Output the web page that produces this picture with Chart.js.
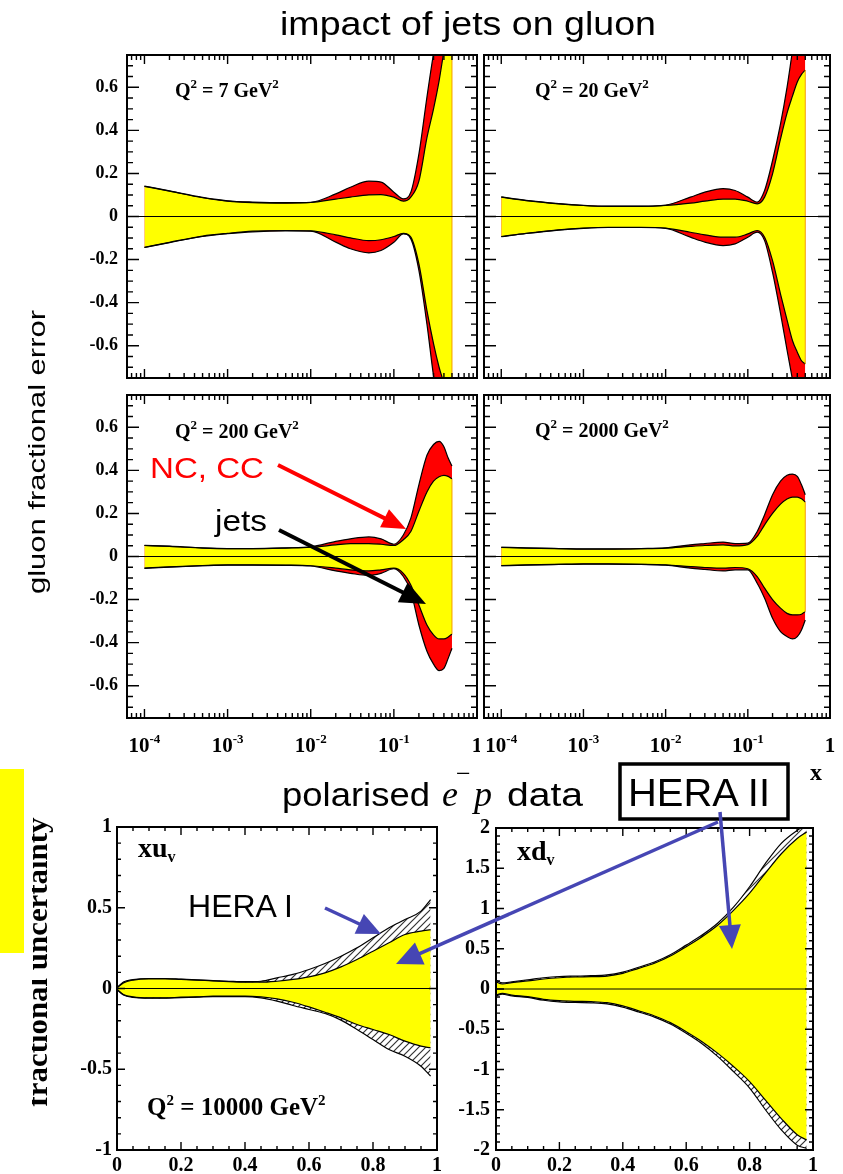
<!DOCTYPE html>
<html>
<head>
<meta charset="utf-8">
<title>impact of jets on gluon</title>
<script src="https://cdn.jsdelivr.net/npm/chart.js@4.4.1/dist/chart.umd.min.js"></script>
<style>
  body { margin: 0; background: #fff; }
  #page { position: relative; width: 843px; height: 1174px; overflow: hidden; background: #fff; }
  #page canvas, #page svg { position: absolute; }
</style>
</head>
<body>
<div id="page">
  <canvas id="q7" width="420" height="332" style="left:60px;top:50px"></canvas>
  <canvas id="q20" width="353" height="332" style="left:481px;top:50px"></canvas>
  <canvas id="q200" width="420" height="372" style="left:60px;top:390px"></canvas>
  <canvas id="q2000" width="357" height="372" style="left:481px;top:390px"></canvas>
  <canvas id="xuv" width="371" height="359" style="left:70px;top:815px"></canvas>
  <canvas id="xdv" width="385" height="359" style="left:445px;top:815px"></canvas>

  <svg id="ann" width="843" height="1174" style="left:0;top:0" font-family="'Liberation Sans', Arial, sans-serif">
    <defs>
      <clipPath id="fuClip"><rect x="32" y="790" width="40" height="340"/></clipPath>
    </defs>
    <rect x="0" y="769" width="24" height="184" fill="#ffff00"/>

    <text x="280" y="35" font-size="33" textLength="376" lengthAdjust="spacingAndGlyphs">impact of jets on gluon</text>
    <text x="45" y="452" font-size="24" text-anchor="middle" textLength="284" lengthAdjust="spacingAndGlyphs" transform="rotate(-90 45 452)">gluon fractional error</text>

    <text x="150" y="478" font-size="30" fill="#ff0000" textLength="114" lengthAdjust="spacingAndGlyphs">NC, CC</text>
    <text x="215" y="531" font-size="30" textLength="52" lengthAdjust="spacingAndGlyphs">jets</text>

    <text x="282" y="806" font-size="34" textLength="148" lengthAdjust="spacingAndGlyphs">polarised</text>
    <g font-family="'Liberation Serif', 'Times New Roman', serif">
      <text x="442" y="806" font-size="36" font-style="italic">e</text>
      <text x="456" y="782" font-size="26">&#8722;</text>
      <text x="474" y="806" font-size="36" font-style="italic">p</text>
    </g>
    <text x="507" y="806" font-size="34" textLength="76" lengthAdjust="spacingAndGlyphs">data</text>
    <rect x="620" y="764" width="168" height="55" fill="none" stroke="#000" stroke-width="3.5"/>
    <text x="628" y="806" font-size="38" textLength="142" lengthAdjust="spacingAndGlyphs">HERA II</text>
    <text x="188" y="917" font-size="32" textLength="105" lengthAdjust="spacingAndGlyphs">HERA I</text>

    <g font-family="'Liberation Serif', 'Times New Roman', serif" font-weight="bold">
      <text x="175" y="97" font-size="20">Q<tspan dy="-9" font-size="13">2</tspan><tspan dy="9"> = 7 GeV</tspan><tspan dy="-9" font-size="13">2</tspan></text>
      <text x="535" y="97" font-size="20">Q<tspan dy="-9" font-size="13">2</tspan><tspan dy="9"> = 20 GeV</tspan><tspan dy="-9" font-size="13">2</tspan></text>
      <text x="175" y="438" font-size="20">Q<tspan dy="-9" font-size="13">2</tspan><tspan dy="9"> = 200 GeV</tspan><tspan dy="-9" font-size="13">2</tspan></text>
      <text x="535" y="437" font-size="20">Q<tspan dy="-9" font-size="13">2</tspan><tspan dy="9"> = 2000 GeV</tspan><tspan dy="-9" font-size="13">2</tspan></text>
      <text x="810" y="780" font-size="24">x</text>
      <text x="138" y="857" font-size="28">xu<tspan dy="5" font-size="16">v</tspan></text>
      <text x="517" y="860" font-size="28">xd<tspan dy="5" font-size="16">v</tspan></text>
      <text x="147" y="1115" font-size="25">Q<tspan dy="-10" font-size="15">2</tspan><tspan dy="10"> = 10000 GeV</tspan><tspan dy="-10" font-size="15">2</tspan></text>
      <g clip-path="url(#fuClip)">
        <text x="47" y="962" font-size="30" text-anchor="middle" textLength="289" lengthAdjust="spacingAndGlyphs" transform="rotate(-90 47 962)">fractional uncertainty</text>
      </g>
    </g>
  </svg>
</div>

<script>
// ---- top four panels: gluon fractional error vs x (log) ----
const xTop = [1e-4, 2e-4, 5e-4, 1e-3, 2e-3, 5e-3, 0.01, 0.02, 0.03, 0.05, 0.07,
              0.1, 0.13, 0.16, 0.2, 0.25, 0.3, 0.35, 0.4, 0.45, 0.5];

// yellow = with jets, red = NC, CC only
const q7JetsHi   = [0.14, 0.118, 0.087, 0.071, 0.064, 0.062, 0.065, 0.081, 0.09, 0.10, 0.102, 0.09, 0.071, 0.09, 0.164, 0.366, 0.50, 0.63, 0.77, 0.9, 1.0];
const q7JetsLo   = [-0.143, -0.12, -0.091, -0.078, -0.068, -0.065, -0.067, -0.085, -0.099, -0.112, -0.108, -0.093, -0.078, -0.096, -0.22, -0.437, -0.59, -0.70, -0.78, -0.9, -1.0];
const q7NcCcHi   = [0.141, 0.119, 0.089, 0.073, 0.067, 0.064, 0.066, 0.105, 0.136, 0.164, 0.16, 0.113, 0.082, 0.113, 0.29, 0.555, 0.757, 0.9, 1.05, 1.2, 1.3];
const q7NcCcLo   = [-0.144, -0.121, -0.093, -0.08, -0.071, -0.067, -0.068, -0.119, -0.15, -0.169, -0.158, -0.12, -0.081, -0.104, -0.25, -0.50, -0.74, -0.9, -1.05, -1.2, -1.3];

const q20JetsHi  = [0.09, 0.074, 0.059, 0.051, 0.047, 0.047, 0.051, 0.062, 0.071, 0.081, 0.081, 0.071, 0.059, 0.09, 0.198, 0.36, 0.48, 0.56, 0.625, 0.66, 0.68];
const q20JetsLo  = [-0.093, -0.078, -0.062, -0.054, -0.05, -0.05, -0.054, -0.073, -0.085, -0.096, -0.096, -0.081, -0.065, -0.096, -0.205, -0.36, -0.48, -0.577, -0.63, -0.67, -0.685];
const q20NcCcHi  = [0.091, 0.075, 0.06, 0.052, 0.048, 0.048, 0.053, 0.09, 0.113, 0.129, 0.121, 0.09, 0.067, 0.121, 0.26, 0.43, 0.60, 0.77, 0.9, 1.0, 1.1];
const q20NcCcLo  = [-0.094, -0.079, -0.063, -0.055, -0.051, -0.051, -0.055, -0.096, -0.119, -0.135, -0.127, -0.096, -0.073, -0.112, -0.26, -0.45, -0.62, -0.76, -0.9, -1.0, -1.1];

const q200JetsHi = [0.051, 0.047, 0.039, 0.036, 0.036, 0.039, 0.043, 0.054, 0.06, 0.06, 0.057, 0.051, 0.078, 0.116, 0.21, 0.30, 0.35, 0.37, 0.377, 0.372, 0.36];
const q200JetsLo = [-0.054, -0.048, -0.042, -0.039, -0.039, -0.04, -0.043, -0.054, -0.062, -0.067, -0.062, -0.054, -0.078, -0.132, -0.225, -0.318, -0.364, -0.383, -0.383, -0.374, -0.36];
const q200NcCcHi = [0.052, 0.048, 0.04, 0.037, 0.037, 0.04, 0.045, 0.07, 0.082, 0.091, 0.082, 0.057, 0.10, 0.178, 0.333, 0.47, 0.52, 0.535, 0.51, 0.457, 0.42];
const q200NcCcLo = [-0.055, -0.049, -0.043, -0.04, -0.04, -0.041, -0.044, -0.067, -0.078, -0.088, -0.078, -0.057, -0.093, -0.163, -0.318, -0.44, -0.50, -0.53, -0.52, -0.473, -0.426];

const q2000JetsHi = [0.042, 0.039, 0.036, 0.034, 0.034, 0.036, 0.039, 0.047, 0.051, 0.054, 0.049, 0.055, 0.093, 0.147, 0.20, 0.243, 0.267, 0.276, 0.276, 0.268, 0.253];
const q2000JetsLo = [-0.042, -0.039, -0.036, -0.034, -0.034, -0.036, -0.039, -0.047, -0.051, -0.054, -0.051, -0.057, -0.093, -0.147, -0.20, -0.24, -0.264, -0.271, -0.271, -0.268, -0.256];
const q2000NcCcHi = [0.043, 0.04, 0.037, 0.035, 0.035, 0.037, 0.04, 0.054, 0.06, 0.067, 0.06, 0.062, 0.116, 0.194, 0.287, 0.35, 0.377, 0.383, 0.372, 0.333, 0.287];
const q2000NcCcLo = [-0.043, -0.04, -0.037, -0.035, -0.035, -0.037, -0.04, -0.054, -0.06, -0.067, -0.062, -0.062, -0.124, -0.194, -0.287, -0.349, -0.372, -0.383, -0.372, -0.341, -0.295];

// ---- bottom two panels: fractional uncertainty vs x (linear), Q2 = 10000 ----
const xBottom = [0, 0.02, 0.05, 0.1, 0.15, 0.2, 0.25, 0.3, 0.35, 0.4, 0.45,
                 0.5, 0.55, 0.6, 0.65, 0.7, 0.75, 0.8, 0.85, 0.9, 0.95, 0.98];

// yellow = HERA II, hatched = HERA I
const xuHera2Hi = [0.004, 0.035, 0.052, 0.06, 0.06, 0.056, 0.052, 0.047, 0.043, 0.039, 0.039, 0.045, 0.056, 0.072, 0.097, 0.134, 0.18, 0.231, 0.283, 0.334, 0.355, 0.365];
const xuHera2Lo = [-0.006, -0.037, -0.052, -0.058, -0.058, -0.054, -0.052, -0.047, -0.047, -0.047, -0.052, -0.064, -0.085, -0.114, -0.147, -0.182, -0.223, -0.254, -0.285, -0.326, -0.357, -0.367];
const xuHera1Hi = [0.004, 0.04, 0.055, 0.062, 0.062, 0.058, 0.054, 0.049, 0.045, 0.042, 0.045, 0.066, 0.087, 0.118, 0.155, 0.20, 0.252, 0.314, 0.376, 0.427, 0.479, 0.55];
const xuHera1Lo = [-0.006, -0.04, -0.055, -0.06, -0.06, -0.056, -0.054, -0.05, -0.05, -0.05, -0.058, -0.078, -0.105, -0.13, -0.155, -0.196, -0.254, -0.316, -0.378, -0.419, -0.481, -0.543];

const xdHera2Hi = [0.09, 0.062, 0.079, 0.10, 0.124, 0.14, 0.149, 0.153, 0.161, 0.195, 0.257, 0.32, 0.41, 0.526, 0.65, 0.795, 0.98, 1.19, 1.44, 1.68, 1.87, 1.95];
const xdHera2Lo = [-0.075, -0.054, -0.075, -0.095, -0.128, -0.145, -0.153, -0.157, -0.17, -0.21, -0.27, -0.335, -0.418, -0.53, -0.654, -0.80, -0.965, -1.15, -1.38, -1.61, -1.81, -1.876];
const xdHera1Hi = [0.11, 0.075, 0.09, 0.115, 0.14, 0.155, 0.16, 0.165, 0.175, 0.21, 0.27, 0.335, 0.425, 0.545, 0.67, 0.82, 1.02, 1.27, 1.56, 1.81, 1.97, 2.04];
const xdHera1Lo = [-0.085, -0.065, -0.085, -0.105, -0.14, -0.16, -0.168, -0.172, -0.185, -0.225, -0.285, -0.35, -0.435, -0.55, -0.68, -0.84, -1.03, -1.23, -1.5, -1.75, -1.94, -1.98];

// tick labels
const topXTicks = [1e-4, 1e-3, 1e-2, 1e-1, 1];
const topYTicks = [-0.6, -0.4, -0.2, 0, 0.2, 0.4, 0.6];
const linXTicks = [0, 0.2, 0.4, 0.6, 0.8, 1];
const xuYTicks = [-1, -0.5, 0, 0.5, 1];
const xdYTicks = [-2, -1.5, -1, -0.5, 0, 0.5, 1, 1.5, 2];

const TOP_XMIN = Math.pow(10, -4.21);

function steps(from, to, step) {
  const out = [];
  for (let v = from; v <= to + 1e-9; v += step) out.push(+v.toFixed(4));
  return out;
}
function logMinors(min, max) {
  const out = [];
  for (let d = 1e-5; d < max; d *= 10)
    for (let m = 2; m <= 9; m++) {
      const v = d * m;
      if (v > min && v < max) out.push(v);
    }
  return out;
}

const serif = '"Liberation Serif", "Times New Roman", serif';
const topStyle = {
  xMajor: topXTicks, xMinor: logMinors(TOP_XMIN, 1), xMajLen: 9, xMinLen: 5,
  yMajor: topYTicks, yMinor: steps(-0.75, 0.75, 0.05), yMajLen: 12, yMinLen: 6,
  yGap: 9, yFont: 'bold 18px ' + serif
};
const frameStyle = {
  q7:    Object.assign({}, topStyle, { yLabels: true }),
  q20:   Object.assign({}, topStyle, {}),
  q200:  Object.assign({}, topStyle, { yLabels: true, xLabels: 'log' }),
  q2000: Object.assign({}, topStyle, { xLabels: 'log' }),
  xuv: {
    xMajor: linXTicks, xMinor: steps(0, 1, 0.05), xMajLen: 8, xMinLen: 4,
    yMajor: xuYTicks, yMinor: steps(-1, 1, 0.1), yMajLen: 8, yMinLen: 4,
    yLabels: true, xLabels: 'lin', yGap: 5, yFont: 'bold 20px ' + serif
  },
  xdv: {
    xMajor: linXTicks, xMinor: steps(0, 1, 0.05), xMajLen: 8, xMinLen: 4,
    yMajor: xdYTicks, yMinor: steps(-2, 2, 0.1), yMajLen: 8, yMinLen: 4,
    yLabels: true, xLabels: 'lin', yGap: 6, yFont: 'bold 20px ' + serif
  }
};

function fmt(v) {
  return v === 0 ? '0' : String(+v.toFixed(2));
}

// ROOT-like frame: inward ticks on all four sides, labels outside
const framePlugin = {
  id: 'frame',
  afterDraw(chart) {
    const s = frameStyle[chart.canvas.id];
    const { ctx, chartArea: a } = chart;
    const x = chart.scales.x, y = chart.scales.y;
    ctx.save();
    ctx.strokeStyle = '#000';
    ctx.lineWidth = 1.4;
    ctx.beginPath();
    const xt = (v, len) => {
      const px = x.getPixelForValue(v);
      if (px < a.left + 1 || px > a.right - 1) return;
      ctx.moveTo(px, a.bottom); ctx.lineTo(px, a.bottom - len);
      ctx.moveTo(px, a.top); ctx.lineTo(px, a.top + len);
    };
    const yt = (v, len) => {
      const py = y.getPixelForValue(v);
      if (py < a.top + 1 || py > a.bottom - 1) return;
      ctx.moveTo(a.left, py); ctx.lineTo(a.left + len, py);
      ctx.moveTo(a.right, py); ctx.lineTo(a.right - len, py);
    };
    s.xMinor.forEach(v => xt(v, s.xMinLen));
    s.xMajor.forEach(v => xt(v, s.xMajLen));
    s.yMinor.forEach(v => yt(v, s.yMinLen));
    s.yMajor.forEach(v => yt(v, s.yMajLen));
    ctx.stroke();
    ctx.lineWidth = 2;
    ctx.strokeRect(a.left, a.top, a.right - a.left, a.bottom - a.top);

    ctx.fillStyle = '#000';
    if (s.yLabels) {
      ctx.font = s.yFont;
      ctx.textAlign = 'right';
      ctx.textBaseline = 'middle';
      s.yMajor.forEach(v => ctx.fillText(fmt(v), a.left - s.yGap, y.getPixelForValue(v)));
    }
    ctx.textBaseline = 'alphabetic';
    if (s.xLabels === 'log') {
      const big = 'bold 21px ' + serif, sup = 'bold 13px ' + serif;
      const base = a.bottom + 34;
      s.xMajor.forEach(v => {
        const px = x.getPixelForValue(v);
        const e = Math.round(Math.log10(v));
        ctx.font = big;
        if (e === 0) { ctx.textAlign = 'center'; ctx.fillText('1', px, base); return; }
        const w1 = ctx.measureText('10').width;
        ctx.font = sup;
        const w2 = ctx.measureText(String(e)).width;
        const left = px - (w1 + w2) / 2;
        ctx.textAlign = 'left';
        ctx.font = big; ctx.fillText('10', left, base);
        ctx.font = sup; ctx.fillText(String(e), left + w1, base - 9);
      });
    }
    if (s.xLabels === 'lin') {
      ctx.font = 'bold 20px ' + serif;
      ctx.textAlign = 'center';
      s.xMajor.forEach(v => ctx.fillText(fmt(v), x.getPixelForValue(v), a.bottom + 21));
    }
    ctx.restore();
  }
};

function pts(xs, ys) {
  return xs.map((x, i) => ({ x: x, y: ys[i] }));
}

function hatchPattern() {
  const c = document.createElement('canvas');
  c.width = 7; c.height = 7;
  const g = c.getContext('2d');
  g.fillStyle = '#fff';
  g.fillRect(0, 0, 7, 7);
  g.strokeStyle = '#333';
  g.lineWidth = 1.2;
  g.beginPath();
  g.moveTo(-1, 8); g.lineTo(8, -1);
  g.moveTo(-1, 1); g.lineTo(1, -1);
  g.moveTo(6, 8); g.lineTo(8, 6);
  g.stroke();
  return g.createPattern(c, 'repeat');
}

function bandChart(id, cfg) {
  const n = cfg.xs.length - 1;
  const datasets = [
    { data: pts(cfg.xs, cfg.innerHi), fill: '+1', backgroundColor: '#ffff00', borderColor: '#000', order: 1 },
    { data: pts(cfg.xs, cfg.innerLo), fill: false, borderColor: '#000', order: 1 },
    { data: pts(cfg.xs, cfg.outerHi), fill: '+1', backgroundColor: cfg.outerFill, borderColor: '#000', order: 2 },
    { data: pts(cfg.xs, cfg.outerLo), fill: false, borderColor: '#000', order: 2 },
    { data: [{ x: cfg.xMin, y: 0 }, { x: cfg.xMax, y: 0 }], fill: false, borderColor: '#000',
      borderWidth: 1, tension: 0, cubicInterpolationMode: 'default', order: 0 }
  ];
  if (cfg.edge) {
    datasets.push({ data: [{ x: cfg.xs[n], y: cfg.innerLo[n] }, { x: cfg.xs[n], y: cfg.innerHi[n] }],
      fill: false, borderColor: '#f5a000', borderWidth: 1, tension: 0, cubicInterpolationMode: 'default', order: 0 });
  }
  return new Chart(document.getElementById(id), {
    type: 'line',
    data: { datasets: datasets },
    options: {
      responsive: false,
      animation: false,
      devicePixelRatio: 1,
      events: [],
      layout: { padding: cfg.pad },
      plugins: {
        legend: { display: false },
        tooltip: { enabled: false },
        filler: { drawTime: 'beforeDatasetsDraw' }
      },
      scales: {
        x: { type: cfg.logX ? 'logarithmic' : 'linear', min: cfg.xMin, max: cfg.xMax, display: false },
        y: { type: 'linear', min: cfg.yMin, max: cfg.yMax, display: false }
      },
      elements: {
        point: { radius: 0 },
        line: { borderWidth: 1.2, cubicInterpolationMode: 'monotone' }
      }
    },
    plugins: [framePlugin]
  });
}

const topCfg = { xs: xTop, logX: true, xMin: TOP_XMIN, xMax: 1, yMin: -0.75, yMax: 0.75, outerFill: '#ff0000', edge: true };

bandChart('q7', Object.assign({}, topCfg, {
  innerHi: q7JetsHi, innerLo: q7JetsLo, outerHi: q7NcCcHi, outerLo: q7NcCcLo,
  pad: { left: 67, right: 3, top: 5, bottom: 4 } }));
bandChart('q20', Object.assign({}, topCfg, {
  innerHi: q20JetsHi, innerLo: q20JetsLo, outerHi: q20NcCcHi, outerLo: q20NcCcLo,
  pad: { left: 3, right: 4, top: 5, bottom: 4 } }));
bandChart('q200', Object.assign({}, topCfg, {
  innerHi: q200JetsHi, innerLo: q200JetsLo, outerHi: q200NcCcHi, outerLo: q200NcCcLo,
  pad: { left: 67, right: 3, top: 5, bottom: 44 } }));
bandChart('q2000', Object.assign({}, topCfg, {
  innerHi: q2000JetsHi, innerLo: q2000JetsLo, outerHi: q2000NcCcHi, outerLo: q2000NcCcLo,
  pad: { left: 3, right: 8, top: 5, bottom: 44 } }));

const hatch = hatchPattern();
bandChart('xuv', {
  xs: xBottom, logX: false, xMin: 0, xMax: 1, yMin: -1, yMax: 1, outerFill: hatch,
  innerHi: xuHera2Hi, innerLo: xuHera2Lo, outerHi: xuHera1Hi, outerLo: xuHera1Lo,
  pad: { left: 47, right: 4, top: 12, bottom: 24 } });
bandChart('xdv', {
  xs: xBottom, logX: false, xMin: 0, xMax: 1, yMin: -2, yMax: 2, outerFill: hatch,
  innerHi: xdHera2Hi, innerLo: xdHera2Lo, outerHi: xdHera1Hi, outerLo: xdHera1Lo,
  pad: { left: 51, right: 17, top: 13, bottom: 24 } });

// annotation arrows (slide overlay)
const arrows = [
  { from: [278, 465], to: [406, 529], color: '#ff0000', width: 4, len: 24, half: 10 },
  { from: [279, 530], to: [426, 604], color: '#000000', width: 4, len: 26, half: 11 },
  { from: [325, 908], to: [381, 934], color: '#4646b4', width: 3.5, len: 24, half: 11 },
  { from: [718, 822], to: [396, 964], color: '#4646b4', width: 3.5, len: 26, half: 12 },
  { from: [720, 812], to: [732, 949], color: '#4646b4', width: 3.5, len: 24, half: 11 }
];
const svg = document.getElementById('ann');
const NS = 'http://www.w3.org/2000/svg';
arrows.forEach(ar => {
  const [x1, y1] = ar.from, [x2, y2] = ar.to;
  const d = Math.hypot(x2 - x1, y2 - y1);
  const ux = (x2 - x1) / d, uy = (y2 - y1) / d;
  const bx = x2 - ux * ar.len, by = y2 - uy * ar.len;
  const line = document.createElementNS(NS, 'line');
  line.setAttribute('x1', x1); line.setAttribute('y1', y1);
  line.setAttribute('x2', bx + ux * 2); line.setAttribute('y2', by + uy * 2);
  line.setAttribute('stroke', ar.color); line.setAttribute('stroke-width', ar.width);
  svg.appendChild(line);
  const head = document.createElementNS(NS, 'polygon');
  head.setAttribute('points', [
    [x2, y2],
    [bx - uy * ar.half, by + ux * ar.half],
    [bx + uy * ar.half, by - ux * ar.half]
  ].map(p => p.join(',')).join(' '));
  head.setAttribute('fill', ar.color);
  svg.appendChild(head);
});
</script>
</body>
</html>
